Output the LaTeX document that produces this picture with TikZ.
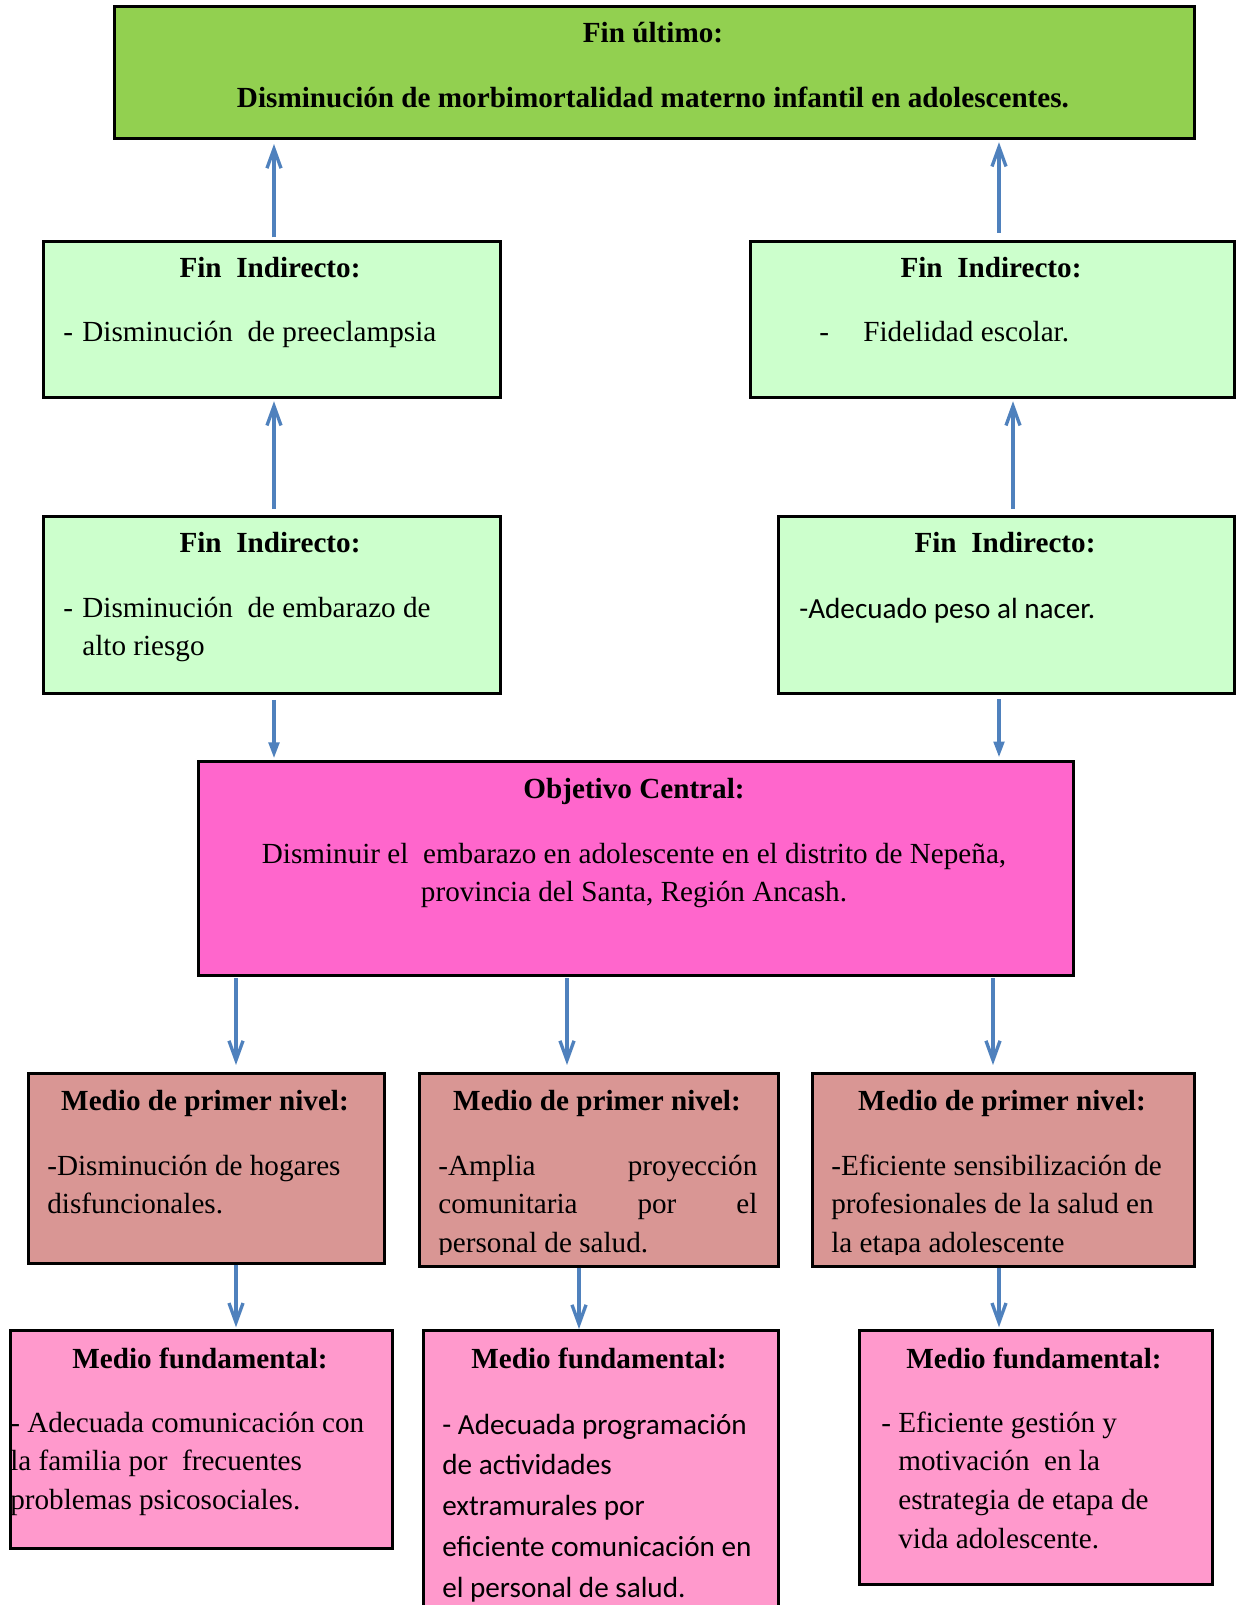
\documentclass[tikz,border=0pt]{standalone}
\usepackage{fontspec}
\setmainfont{Liberation Serif}
\newfontfamily\calibrifont{Carlito}
\usepackage{tikz}
\usetikzlibrary{arrows.meta, calc}
\definecolor{fingreen}{RGB}{146,208,80}
\definecolor{indgreen}{RGB}{204,255,204}
\definecolor{objpink}{RGB}{255,102,204}
\definecolor{medrose}{RGB}{217,150,148}
\definecolor{fundpink}{RGB}{255,153,204}
\definecolor{arrowblue}{RGB}{79,129,189}
\newlength{\unitpx}
\setlength{\unitpx}{0.02cm}
\newcommand{\boxfont}{\fontsize{16.6}{22.1}\selectfont}
\newcommand{\dashitem}[1]{\makebox[#1\unitpx][l]{-}}
\tikzset{
  box/.style={rectangle, draw=black, line width=1.5pt, anchor=north west,
    inner sep=0pt},
  head/.style={anchor=base, inner sep=0pt, font=\boxfont\bfseries},
  body/.style={anchor=base west, inner sep=0pt, font=\boxfont},
  cbody/.style={anchor=base, inner sep=0pt, font=\boxfont},
  uparrow/.style={-{Straight Barb[length=11pt,width=8pt]}, line width=1.9pt,
    color=arrowblue},
  downarrow/.style={-{Straight Barb[length=11pt,width=8pt]}, line width=1.9pt,
    color=arrowblue},
  fillarrow/.style={-{Triangle[length=9pt,width=6pt]}, line width=1.9pt,
    color=arrowblue}
}

\begin{document}
\begin{tikzpicture}[x=0.02cm, y=-0.02cm]
  \useasboundingbox (0,0) rectangle (1242,1605);

  % Fin ultimo
  \node[box, fill=fingreen, minimum width=1080\unitpx, minimum height=132\unitpx] (top) at (113,5) {};
  \node[head] (toph) at (653,43) {Fin último:};
  \node[head] (topb) at (653,108) {Disminución de morbimortalidad materno infantil en adolescentes.};

  % Fines indirectos
  \node[box, fill=indgreen, minimum width=457\unitpx, minimum height=156\unitpx] (fi1) at (42,240) {};
  \node[head] (fi1h) at (270,277) {Fin\ \ Indirecto:};
  \node[body] (fi1b) at (63,341) {\dashitem{19}Disminución\ \ de preeclampsia};

  \node[box, fill=indgreen, minimum width=484\unitpx, minimum height=156\unitpx] (fi2) at (749,240) {};
  \node[head] (fi2h) at (991,277) {Fin\ \ Indirecto:};
  \node[body] (fi2b) at (819,341) {\dashitem{44}Fidelidad escolar.};

  \node[box, fill=indgreen, minimum width=457\unitpx, minimum height=177\unitpx] (fi3) at (42,515) {};
  \node[head] (fi3h) at (270,552) {Fin\ \ Indirecto:};
  \node[body] (fi3b) at (63,617) {\parbox[t]{420\unitpx}{\dashitem{19}Disminución\ \ de embarazo de\\
    \hspace*{19\unitpx}alto riesgo}};

  \node[box, fill=indgreen, minimum width=456\unitpx, minimum height=177\unitpx] (fi4) at (777,515) {};
  \node[head] (fi4h) at (1005,552) {Fin\ \ Indirecto:};
  \node[body] (fi4b) at (799,618) {\calibrifont -Adecuado peso al nacer.};

  % Objetivo central
  \node[box, fill=objpink, minimum width=875\unitpx, minimum height=214\unitpx] (obj) at (197,760) {};
  \node[head] (objh) at (634,798) {Objetivo Central:};
  \node[cbody] (objb) at (634,863) {\parbox[t]{840\unitpx}{\centering
    Disminuir el\ \ embarazo en adolescente en el distrito de Nepeña,\\
    provincia del Santa, Región Ancash.}};

  % Medios de primer nivel
  \node[box, fill=medrose, minimum width=356\unitpx, minimum height=190\unitpx] (med1) at (27,1072) {};
  \node[head] (med1h) at (205,1110) {Medio de primer nivel:};
  \node[body] (med1b) at (47,1175) {\parbox[t]{330\unitpx}{-Disminución de hogares\\disfuncionales.}};

  \node[box, fill=medrose, minimum width=359\unitpx, minimum height=193\unitpx] (med2) at (418,1072) {};
  \node[head] (med2h) at (597,1110) {Medio de primer nivel:};
  \begin{scope}
    \clip (420,1150) rectangle (775,1254);
    \node[body] (med2b) at (438,1175) {\parbox[t]{319\unitpx}{-Amplia\hfill proyección\\
      comunitaria\hfill por\hfill el\\personal de salud.}};
  \end{scope}

  \node[box, fill=medrose, minimum width=382\unitpx, minimum height=193\unitpx] (med3) at (811,1072) {};
  \node[head] (med3h) at (1002,1110) {Medio de primer nivel:};
  \begin{scope}
    \clip (813,1150) rectangle (1191,1254);
    \node[body] (med3b) at (831,1175) {\parbox[t]{355\unitpx}{-Eficiente sensibilización de\\
      profesionales de la salud en\\la etapa adolescente}};
  \end{scope}

  % Medios fundamentales
  \node[box, fill=fundpink, minimum width=382\unitpx, minimum height=218\unitpx] (fund1) at (9,1329) {};
  \node[head] (fund1h) at (200,1368) {Medio fundamental:};
  \node[body] (fund1b) at (10,1432) {\parbox[t]{375\unitpx}{- Adecuada comunicación con\\
    la familia por\ \ frecuentes\\problemas psicosociales.}};

  \node[box, fill=fundpink, minimum width=355\unitpx, minimum height=290\unitpx] (fund2) at (422,1329) {};
  \node[head] (fund2h) at (599,1368) {Medio fundamental:};
  \node[body] (fund2b) at (442,1434) {\parbox[t]{330\unitpx}{\calibrifont\fontsize{16.6}{23.3}\selectfont
    - Adecuada programación\\de actividades\\extramurales por\\
    eficiente comunicación en\\el personal de salud.}};

  \node[box, fill=fundpink, minimum width=353\unitpx, minimum height=254\unitpx] (fund3) at (858,1329) {};
  \node[head] (fund3h) at (1034,1368) {Medio fundamental:};
  \node[body] (fund3b) at (881,1432) {\parbox[t]{320\unitpx}{\dashitem{17}Eficiente gestión y\\
    \hspace*{17\unitpx}motivación\ \ en la\\\hspace*{17\unitpx}estrategia de etapa de\\
    \hspace*{17\unitpx}vida adolescente.}};

  % Flechas
  \coordinate (colA) at (274,0);
  \coordinate (colB) at (999,0);
  \coordinate (colC) at (1013,0);
  \coordinate (colD) at (236,0);
  \coordinate (colE) at (567,0);
  \coordinate (colF) at (993,0);
  \coordinate (colG) at (579,0);

  \draw[uparrow, shorten <=1.5pt, shorten >=2.5pt] (fi1.north -| colA) -- (top.south -| colA);
  \draw[uparrow, shorten <=4pt, shorten >=1.5pt] (fi2.north -| colB) -- (top.south -| colB);
  \draw[uparrow, shorten <=3.5pt, shorten >=1.5pt] (fi3.north -| colA) -- (fi1.south -| colA);
  \draw[uparrow, shorten <=3.5pt, shorten >=1.5pt] (fi4.north -| colC) -- (fi2.south -| colC);

  \draw[fillarrow, shorten <=3pt, shorten >=1pt] (fi3.south -| colA) -- (obj.north -| colA);
  \draw[fillarrow, shorten <=2.5pt, shorten >=1.5pt] (fi4.south -| colB) -- (obj.north -| colB);

  \draw[downarrow, shorten <=1pt, shorten >=4pt] (obj.south -| colD) -- (med1.north -| colD);
  \draw[downarrow, shorten <=1pt, shorten >=4pt] (obj.south -| colE) -- (med2.north -| colE);
  \draw[downarrow, shorten <=1pt, shorten >=4pt] (obj.south -| colF) -- (med3.north -| colF);

  \draw[downarrow, shorten >=1pt] (med1.south -| colD) -- (fund1.north -| colD);
  \draw[downarrow, shorten >=0pt] (med2.south -| colG) -- (fund2.north -| colG);
  \draw[downarrow, shorten >=1pt] (med3.south -| colB) -- (fund3.north -| colB);
\end{tikzpicture}
\end{document}
